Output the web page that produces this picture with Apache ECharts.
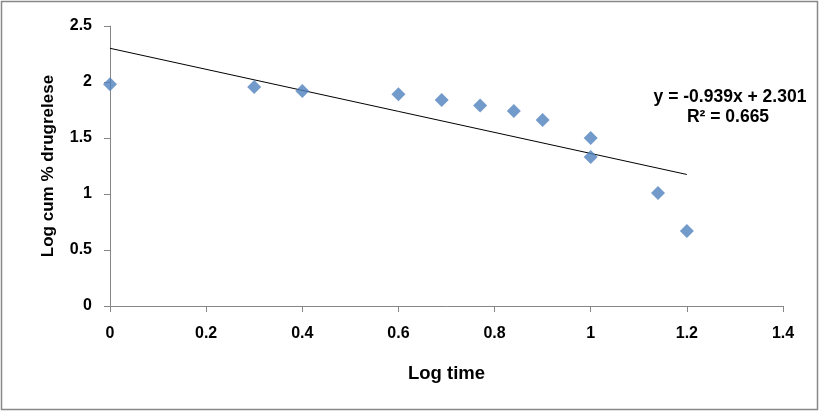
<!DOCTYPE html>
<html>
<head>
<meta charset="utf-8">
<script src="https://cdn.jsdelivr.net/npm/echarts@6/dist/echarts.min.js"></script>
<style>html,body{margin:0;padding:0;background:#fff}#c{width:820px;height:412px}</style>
</head>
<body>
<div id="c"></div>
<script>
const logTime = [0, 0.30, 0.40, 0.60, 0.69, 0.77, 0.84, 0.90, 1.00, 1.00, 1.14, 1.20];
const logCumRelease = [1.98, 1.955, 1.92, 1.89, 1.84, 1.79, 1.74, 1.66, 1.50, 1.33, 1.01, 0.67];
const slope = -0.939;
const intercept = 2.301;
const rSquared = 0.665;
const trendRange = [0, 1.2];
const xTitle = 'Log time';
const yTitle = 'Log cum % drugrelese';

const font = 'Arial, "Liberation Sans", sans-serif';
const chart = echarts.init(document.getElementById('c'), null, {renderer: 'canvas'});
const scatterData = logTime.map((x, i) => [x, logCumRelease[i]]);
const trendData = trendRange.map(x => [x, slope * x + intercept]);

chart.setOption({
  animation: false,
  backgroundColor: '#fff',
  grid: {left: 110, right: 37, top: 26, bottom: 106},
  xAxis: {
    type: 'value', min: 0, max: 1.4, interval: 0.2,
    name: xTitle, nameLocation: 'middle', nameGap: 58,
    nameTextStyle: {fontFamily: font, fontWeight: 'bold', fontSize: 18.5, color: '#000'},
    axisLine: {lineStyle: {color: '#868686', width: 1}},
    axisTick: {show: true, length: 6, lineStyle: {color: '#868686'}},
    axisLabel: {fontFamily: font, fontWeight: 'bold', fontSize: 16, color: '#000', margin: 20},
    splitLine: {show: false}
  },
  yAxis: {
    type: 'value', min: 0, max: 2.5, interval: 0.5,
    name: yTitle, nameLocation: 'middle', nameGap: 53, nameRotate: 90,
    nameTextStyle: {fontFamily: font, fontWeight: 'bold', fontSize: 17, color: '#000'},
    axisLine: {show: true, lineStyle: {color: '#868686', width: 1}},
    axisTick: {show: true, length: 6, lineStyle: {color: '#868686'}},
    axisLabel: {fontFamily: font, fontWeight: 'bold', fontSize: 16, color: '#000', margin: 18},
    splitLine: {show: false}
  },
  series: [
    {
      type: 'line', data: trendData, symbol: 'none', silent: true,
      lineStyle: {color: '#000', width: 1}, z: 1
    },
    {
      type: 'scatter', data: scatterData, symbol: 'diamond', symbolSize: 14,
      itemStyle: {color: '#4F81BD'}, z: 2
    }
  ],
  graphic: [
    {type: 'rect', shape: {x: 1.5, y: 1.5, width: 816, height: 408},
     style: {fill: 'none', stroke: '#888888', lineWidth: 1.5}, silent: true},
    {type: 'text', x: 730, y: 97,
     style: {text: 'y = ' + slope.toFixed(3) + 'x + ' + intercept.toFixed(3),
             font: 'bold 17.5px ' + font, fill: '#000', textAlign: 'center', textVerticalAlign: 'middle'}},
    {type: 'text', x: 728, y: 117,
     style: {text: 'R\u00B2 = ' + rSquared.toFixed(3),
             font: 'bold 17.5px ' + font, fill: '#000', textAlign: 'center', textVerticalAlign: 'middle'}}
  ]
});
</script>
</body>
</html>
